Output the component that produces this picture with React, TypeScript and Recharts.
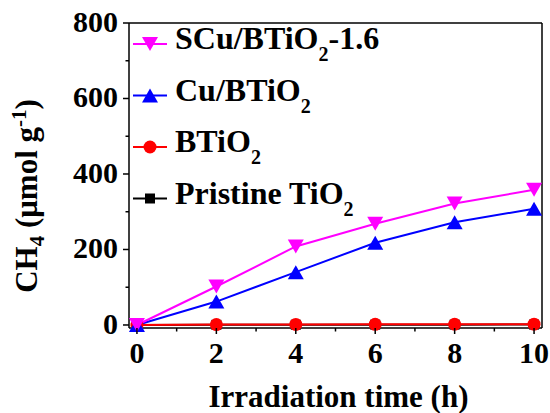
import { LineChart, Line, XAxis, YAxis, ReferenceLine, Legend } from 'recharts';

const hours = [0, 2, 4, 6, 8, 10];
const scuBtio2 = [0, 102, 208, 268, 322, 358];
const cuBtio2 = [0, 62, 140, 218, 272, 308];
const btio2 = [0, 1, 1.5, 1.8, 2, 2.2];
const pristineTio2 = [0, 0.4, 0.6, 0.8, 0.9, 1];

const xTicks = [0, 1, 2, 3, 4, 5, 6, 7, 8, 9, 10];
const yTicks = [0, 100, 200, 300, 400, 500, 600, 700, 800];

const data = hours.map((h, i) => ({
  h,
  scu: scuBtio2[i],
  cu: cuBtio2[i],
  b: btio2[i],
  p: pristineTio2[i],
}));

// legend order, top to bottom
const series = [
  { key: 'scu', main: 'SCu/BTiO', sub: '2', tail: '-1.6', color: '#FF00FF', shape: 'down' },
  { key: 'cu', main: 'Cu/BTiO', sub: '2', tail: '', color: '#0000FF', shape: 'up' },
  { key: 'b', main: 'BTiO', sub: '2', tail: '', color: '#FF0000', shape: 'circle' },
  { key: 'p', main: 'Pristine TiO', sub: '2', tail: '', color: '#000000', shape: 'square' },
];

const FONT = "'Liberation Serif', 'Times New Roman', Times, serif";

function Marker({ shape, cx, cy, color }: any) {
  if (shape === 'down')
    return <path d={`M${cx - 8},${cy - 7} L${cx + 8},${cy - 7} L${cx},${cy + 7} Z`} fill={color} />;
  if (shape === 'up')
    return <path d={`M${cx - 8},${cy + 7} L${cx + 8},${cy + 7} L${cx},${cy - 7} Z`} fill={color} />;
  if (shape === 'circle') return <circle cx={cx} cy={cy} r={6.5} fill={color} />;
  return <rect x={cx - 5} y={cy - 5} width={10} height={10} fill={color} />;
}

const XTick = (props: any) => {
  const { x, y, payload } = props;
  const major = payload.value % 2 === 0;
  return (
    <g>
      <line x1={x} x2={x} y1={y} y2={y + (major ? 6 : 3.5)} stroke="#000" strokeWidth={1.5} />
      {major && (
        <text x={x} y={y + 35} textAnchor="middle" style={{ fontFamily: FONT }} fontWeight="bold" fontSize={30} fill="#000">
          {payload.value}
        </text>
      )}
    </g>
  );
};

const YTick = (props: any) => {
  const { x, y, payload } = props;
  const major = payload.value % 200 === 0;
  return (
    <g>
      <line x1={x} x2={x - (major ? 6 : 3.5)} y1={y} y2={y} stroke="#000" strokeWidth={1.5} />
      {major && (
        <text x={x - 11} y={y + 9} textAnchor="end" style={{ fontFamily: FONT }} fontWeight="bold" fontSize={30} fill="#000">
          {payload.value}
        </text>
      )}
    </g>
  );
};

const XTitle = (props: any) => {
  const { viewBox } = props;
  return (
    <text x={viewBox.x + viewBox.width / 2 + 3} y={407} textAnchor="middle" style={{ fontFamily: FONT }} fontWeight="bold" fontSize={31} fill="#000">
      Irradiation time (h)
    </text>
  );
};

const YTitle = () => (
  <text transform="translate(37,196) rotate(-90)" textAnchor="middle" style={{ fontFamily: FONT }} fontWeight="bold" fontSize={31} fill="#000">
    CH
    <tspan fontSize={21} dy={7}>4</tspan>
    <tspan dy={-7}> (μmol g</tspan>
    <tspan fontSize={21} dy={-11}>-1</tspan>
    <tspan dy={11}>)</tspan>
  </text>
);

const LegendBox = () => (
  <svg width={550} height={220} style={{ display: 'block' }}>
    {series.map((s, i) => {
      const base = 49 + i * 51.5;
      const ly = base - 5;
      return (
        <g key={s.key}>
          <line x1={133} x2={167} y1={ly} y2={ly} stroke={s.color} strokeWidth={2} />
          <Marker shape={s.shape} cx={150} cy={ly} color={s.color} />
          <text x={175} y={base} style={{ fontFamily: FONT }} fontWeight="bold" fontSize={32} fill="#000">
            {s.main}
            <tspan fontSize={20} dy={12}>{s.sub}</tspan>
            {s.tail && <tspan dy={-12}>{s.tail}</tspan>}
          </text>
        </g>
      );
    })}
  </svg>
);

export default function App() {
  return (
    <div style={{ position: 'absolute', left: 0, top: 0, width: 550, height: 413, background: '#fff' }}>
      <LineChart width={550} height={413} data={data} margin={{ top: 23, right: 8, left: 0, bottom: 0 }}>
        <XAxis
          dataKey="h"
          type="number"
          domain={[-0.2, 10.2]}
          ticks={xTicks}
          interval={0}
          height={85}
          tickSize={0}
          tickMargin={0}
          tickLine={false}
          tick={<XTick />}
          axisLine={{ stroke: '#000', strokeWidth: 1.5 }}
          label={{ content: <XTitle /> }}
        />
        <YAxis
          type="number"
          domain={[-8, 800]}
          ticks={yTicks}
          interval={0}
          width={129}
          tickSize={0}
          tickMargin={0}
          tickLine={false}
          tick={<YTick />}
          axisLine={{ stroke: '#000', strokeWidth: 1.5 }}
          label={{ content: <YTitle /> }}
        />
        <ReferenceLine y={800} stroke="#000" strokeWidth={1.5} />
        <ReferenceLine x={10.2} stroke="#000" strokeWidth={1.5} />
        <Legend
          layout="vertical"
          align="center"
          verticalAlign="middle"
          content={<LegendBox />}
          wrapperStyle={{ left: 0, top: 0, width: 550, height: 220 }}
        />
        {[...series].reverse().map((s) => (
          <Line
            key={s.key}
            dataKey={s.key}
            stroke={s.color}
            strokeWidth={2}
            isAnimationActive={false}
            dot={(p: any) => <Marker key={`${s.key}-${p.index}`} shape={s.shape} cx={p.cx} cy={p.cy} color={s.color} />}
            activeDot={false}
          />
        ))}
      </LineChart>
    </div>
  );
}
